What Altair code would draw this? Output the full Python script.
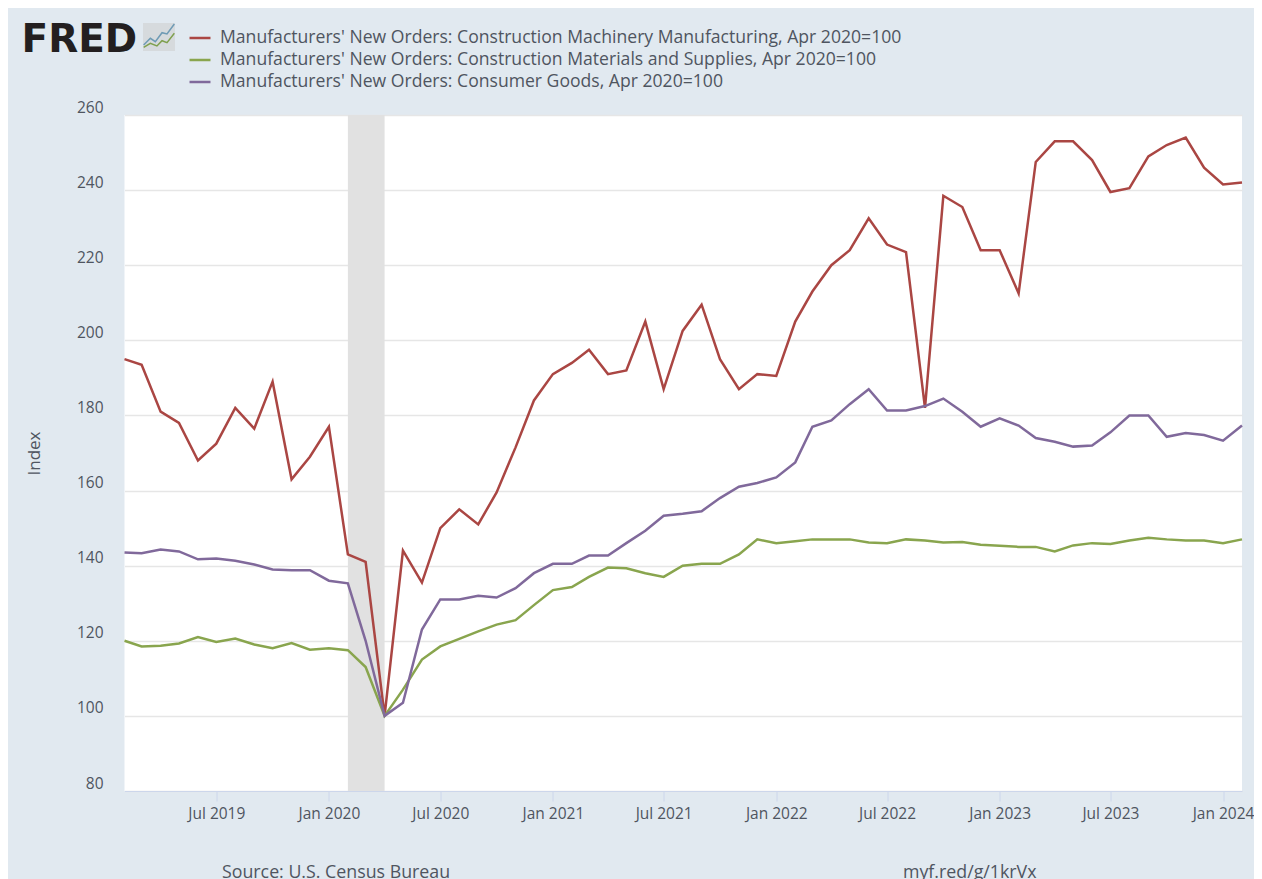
import altair as alt
import pandas as pd

RED = "Manufacturers' New Orders: Construction Machinery Manufacturing, Apr 2020=100"
GREEN = "Manufacturers' New Orders: Construction Materials and Supplies, Apr 2020=100"
PURPLE = "Manufacturers' New Orders: Consumer Goods, Apr 2020=100"

months = [d.strftime("%Y-%m-%dT00:00:00") for d in pd.date_range("2019-02-01", "2024-02-01", freq="MS")]

red = [195, 193.5, 181, 178, 168, 172.5, 182, 176.5, 189, 163, 169,
       177, 143, 141, 100, 144, 135.5, 150, 155, 151, 159.5, 171.5, 184,
       191, 194, 197.5, 191, 192, 205, 187, 202.5, 209.5, 195, 187, 191,
       190.5, 205, 213, 220, 224, 232.5, 225.5, 223.5, 182, 238.5, 235.5, 224,
       224, 212.5, 247.5, 253, 253, 248, 239.5, 240.5, 249, 252, 254, 246,
       241.5, 242]
green = [120, 118.5, 118.7, 119.3, 121, 119.7, 120.6, 119, 118, 119.4, 117.6,
         118, 117.5, 113, 100, 107, 115, 118.5, 120.5, 122.5, 124.3, 125.5, 129.5,
         133.5, 134.3, 137, 139.5, 139.3, 138, 137, 140, 140.5, 140.5, 143, 147,
         146, 146.5, 147, 147, 147, 146.2, 146, 147, 146.7, 146.2, 146.3, 145.6,
         145.3, 145, 145, 143.8, 145.4, 146, 145.8, 146.7, 147.4, 147, 146.7, 146.7,
         146, 147]
purple = [143.5, 143.3, 144.3, 143.8, 141.7, 141.9, 141.3, 140.3, 139, 138.8, 138.8,
          136, 135.3, 120, 100, 103.5, 123, 131, 131, 132, 131.5, 134, 138,
          140.5, 140.5, 142.7, 142.7, 146, 149.3, 153.3, 153.8, 154.5, 158, 161, 162,
          163.5, 167.5, 177, 178.7, 183, 187, 181.3, 181.3, 182.5, 184.5, 181, 177,
          179.2, 177.3, 174, 173, 171.7, 172, 175.5, 180, 180, 174.3, 175.3, 174.8,
          173.3, 177.3]

tick_months = [(2019, 7), (2020, 1), (2020, 7), (2021, 1), (2021, 7), (2022, 1),
               (2022, 7), (2023, 1), (2023, 7), (2024, 1)]
y_ticks = list(range(80, 261, 20))

FONT = "Open Sans"
TXT = "#4f5560"

df = pd.concat([
    pd.DataFrame({"date": months, "value": red, "series": RED}),
    pd.DataFrame({"date": months, "value": green, "series": GREEN}),
    pd.DataFrame({"date": months, "value": purple, "series": PURPLE}),
])

x_scale = alt.Scale(domain=[alt.DateTime(year=2019, month=2, date=1),
                            alt.DateTime(year=2024, month=2, date=1)], nice=False)
y_scale = alt.Scale(domain=[80, 260], nice=False, zero=False)

x_axis = alt.Axis(
    values=[alt.DateTime(year=y, month=m, date=1) for y, m in tick_months],
    format="%b %Y", labelFont=FONT, labelFontSize=15.5, labelColor=TXT, title=None,
    grid=False, tickColor="#ccd6eb", tickSize=10, domainColor="#ccd6eb",
    labelPadding=5, labelFlush=False, labelOverlap=False,
)
y_axis = alt.Axis(
    values=y_ticks, labelFont=FONT, labelFontSize=15.5, labelColor=TXT,
    title="Index", titleFont=FONT, titleFontSize=17, titleColor=TXT, titleFontWeight="normal",
    titleX=-81, titleY=338,
    grid=True, gridColor="#e6e6e6", gridWidth=1.5, ticks=False, domain=False,
    labelPadding=21.5, labelOffset=-8,
)

recession = alt.Chart(pd.DataFrame({"start": ["2020-02-01T00:00:00"], "end": ["2020-04-01T00:00:00"]})).mark_rect(
    color="#e1e1e1").encode(
    x=alt.X("start:T", scale=x_scale, axis=x_axis),
    x2="end:T",
)

lines = alt.Chart(df).mark_line(strokeWidth=2.5, strokeJoin="miter").encode(
    x=alt.X("date:T", scale=x_scale, axis=x_axis),
    y=alt.Y("value:Q", scale=y_scale, axis=y_axis),
    color=alt.Color("series:N",
                    scale=alt.Scale(domain=[RED, GREEN, PURPLE], range=["#AA4643", "#89A54E", "#80699B"]),
                    legend=alt.Legend(orient="none", legendX=63.5, legendY=-89, title=None,
                                      symbolType="stroke", symbolSize=440, symbolStrokeWidth=2.5,
                                      labelFont=FONT, labelFontSize=17.6, labelColor=TXT, labelLimit=900,
                                      labelOffset=8, rowPadding=1)),
    order=alt.Order("series:N"),
)

logo = alt.Chart(pd.DataFrame({"t": ["FRED"]})).mark_text(
    font="DejaVu Sans", fontWeight="bold", fontSize=39, color="#231f20", align="left", baseline="middle"
).encode(text="t:N", x=alt.value(-103), y=alt.value(-75))

icon_box = alt.Chart(pd.DataFrame({"a": [0]})).mark_rect(color="#d6dadd").encode(
    x=alt.value(18.5), x2=alt.value(50.5), y=alt.value(-92), y2=alt.value(-64))
icon_blue = alt.Chart(pd.DataFrame({"a": [0]})).mark_point(
    shape="M-0.96,0.5 L-0.54,0.08 L-0.23,0.29 L0.19,-0.27 L0.5,-0.19 L0.96,-0.81",
    size=1024, filled=False, stroke="#6f9bb5", strokeWidth=1.5, opacity=1).encode(
    x=alt.value(34.5), y=alt.value(-78))
icon_green = alt.Chart(pd.DataFrame({"a": [0]})).mark_point(
    shape="M-0.96,0.65 L-0.54,0.4 L-0.13,0.56 L0.19,0.23 L0.5,0.35 L0.96,-0.23",
    size=1024, filled=False, stroke="#7fa04e", strokeWidth=1.5, opacity=1).encode(
    x=alt.value(34.5), y=alt.value(-78))

note_source = alt.Chart(pd.DataFrame({"t": ["Source: U.S. Census Bureau"]})).mark_text(
    font=FONT, fontSize=17.8, color=TXT, align="left", baseline="middle"
).encode(text="t:N", x=alt.value(97.5), y=alt.value(758))
note_link = alt.Chart(pd.DataFrame({"t": ["myf.red/g/1krVx"]})).mark_text(
    font=FONT, fontSize=17.8, color=TXT, align="left", baseline="middle"
).encode(text="t:N", x=alt.value(778.5), y=alt.value(758))

chart = alt.layer(recession, lines, logo, icon_box, icon_blue, icon_green, note_source, note_link).properties(
    width=1117.5, height=676,
    background="#e1e9f0",
    autosize=alt.AutoSizeParams(type="none"),
    padding={"left": 116.5, "top": 107, "right": 12, "bottom": 88},
).configure_view(fill="white", stroke=None)

chart.save("out.html", embed_options={"renderer": "svg", "actions": False})
